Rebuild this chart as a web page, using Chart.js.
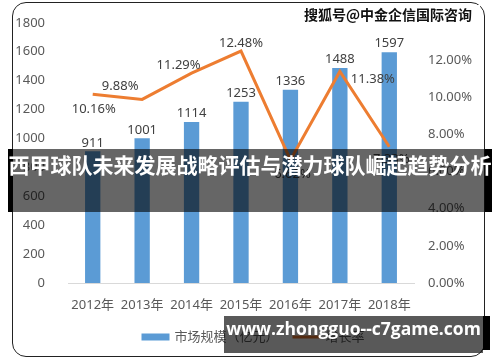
<!DOCTYPE html>
<html><head><meta charset="utf-8">
<script src="https://cdn.jsdelivr.net/npm/chart.js@4.4.0/dist/chart.umd.min.js"></script>
<style>
html,body{margin:0;padding:0;background:#fff;}
#wrap{position:relative;width:500px;height:362px;overflow:hidden;}
canvas{position:absolute;left:0;top:0;}
#panel{position:absolute;left:12px;top:2px;width:471px;height:353px;border:1.5px solid #222;border-radius:14px;pointer-events:none;}
#wm{position:absolute;left:304px;top:5px;width:176px;height:22px;background:#fff;font:bold 14px "Noto Sans CJK SC",sans-serif;color:#111;line-height:19px;white-space:nowrap;text-shadow:0 0 1px #fff;}
#banner{position:absolute;left:8px;top:149px;width:484px;height:63px;background:rgba(0,0,0,0.6);}
#banner .l{position:absolute;left:0;top:0;width:5px;height:63px;background:#000;}
#banner .r{position:absolute;right:0;top:0;width:7px;height:63px;background:#000;}
#banner .t{position:absolute;left:0;top:0;width:484px;line-height:63px;text-align:center;color:#fff;font:bold 21px "Noto Sans CJK SC",sans-serif;white-space:nowrap;}
#foot{position:absolute;left:224px;top:316px;width:266px;height:37px;}
#foot .g{position:absolute;left:0;top:0;width:259px;height:37px;background:rgba(0,0,0,0.65);}
#foot .r{position:absolute;left:259px;top:0;width:7px;height:34px;background:#000;}
#foot .t{position:absolute;left:1px;top:0;width:257px;line-height:37px;text-align:center;color:#fff;font:bold 17.5px "Open Sans",sans-serif;white-space:nowrap;}
</style></head>
<body><div id="wrap">
<canvas id="c" width="500" height="362"></canvas>
<div id="panel"></div>
<div id="wm">搜狐号@中金企信国际咨询</div>
<div id="banner"><div class="l"></div><div class="r"></div><div class="t">西甲球队未来发展战略评估与潜力球队崛起趋势分析</div></div>
<div id="foot"><div class="g"></div><div class="r"></div><div class="t">www.zhongguo--c7game.com</div></div>
</div>
<script>
const categories = ['2012年','2013年','2014年','2015年','2016年','2017年','2018年'];
const marketSize = [911, 1001, 1114, 1253, 1336, 1488, 1597];
const growthRate = [10.16, 9.88, 11.29, 12.48, 6.62, 11.38, 7.33];
const seriesNames = ['市场规模（亿元）', '增长率'];
const leftAxis = {min: 0, max: 1800, step: 200};
const rightAxis = {min: 0, max: 14, step: 2};

const FONT = "'Noto Sans','Noto Sans CJK SC',sans-serif";
const BLUE = '#5B9BD5', ORANGE = '#ED7D31', TXT = '#595959', LBL = '#404040';
const lineLabelOffsets = [[1,15],[-22,-13],[-13,-8],[0,-8],[2,14],[33,8],[2,13]];

const labelPlugin = {
  id: 'labels',
  afterDatasetsDraw(chart) {
    const ctx = chart.ctx;
    ctx.save();
    ctx.font = '13px ' + FONT;
    ctx.fillStyle = LBL;
    ctx.textAlign = 'center';
    chart.data.datasets.forEach((ds, di) => {
      const meta = chart.getDatasetMeta(di);
      meta.data.forEach((el, i) => {
        if (ds.type === 'bar') {
          ctx.textBaseline = 'bottom';
          ctx.fillText(String(ds.data[i]), el.x, el.y - 2);
        } else {
          ctx.textBaseline = 'middle';
          const o = lineLabelOffsets[i];
          ctx.fillText(ds.data[i].toFixed(2) + '%', el.x + o[0], el.y + o[1]);
        }
      });
    });
    ctx.restore();
  },
  afterDraw(chart) {
    const ctx = chart.ctx;
    ctx.save();
    ctx.font = '13px ' + FONT;
    const items = chart.data.datasets.map(ds => ({label: ds.label, type: ds.type, color: ds.type === 'bar' ? ds.backgroundColor : ds.borderColor}));
    const boxW = 28, gap = 5, spacing = 14;
    let total = 0;
    items.forEach((it, k) => { it.w = boxW + gap + ctx.measureText(it.label).width; total += it.w + (k ? spacing : 0); });
    let x = 250 - total / 2 + 3;
    const y = 337;
    items.forEach(it => {
      ctx.fillStyle = it.color;
      if (it.type === 'bar') ctx.fillRect(x, y - 3.5, boxW, 7);
      else ctx.fillRect(x, y - 1.5, boxW, 3);
      ctx.fillStyle = TXT;
      ctx.textAlign = 'left';
      ctx.textBaseline = 'middle';
      ctx.fillText(it.label, x + boxW + gap, y);
      x += it.w + spacing;
    });
    ctx.restore();
  }
};

new Chart(document.getElementById('c'), {
  data: {
    labels: categories,
    datasets: [
      {type: 'bar', label: seriesNames[0], data: marketSize, backgroundColor: BLUE, yAxisID: 'y', order: 1,
       categoryPercentage: 1, barPercentage: 0.31},
      {type: 'line', label: seriesNames[1], data: growthRate, borderColor: ORANGE, backgroundColor: ORANGE,
       borderWidth: 3, pointRadius: 0, tension: 0, yAxisID: 'y1', order: 0}
    ]
  },
  options: {
    responsive: false,
    animation: false,
    layout: {padding: {left: 14, right: 14, top: 7, bottom: 49}},
    plugins: {legend: {display: false}, tooltip: {enabled: false}},
    scales: {
      x: {
        grid: {display: false},
        border: {display: true, color: '#D9D9D9', width: 1},
        ticks: {color: TXT, font: {family: FONT, size: 13}, padding: 6, maxRotation: 0},
        afterFit(s) { s.height = 30; }
      },
      y: {
        position: 'left', min: leftAxis.min, max: leftAxis.max,
        grid: {display: false}, border: {display: false},
        ticks: {stepSize: leftAxis.step, color: TXT, font: {family: FONT, size: 13}, padding: 15,
          callback: v => String(v)},
        afterFit(s) { s.width = 54; }
      },
      y1: {
        position: 'right', min: rightAxis.min, max: rightAxis.max,
        grid: {display: false}, border: {display: false},
        ticks: {stepSize: rightAxis.step, color: TXT, font: {family: FONT, size: 13}, padding: 6,
          callback: v => v.toFixed(2) + '%'},
        afterFit(s) { s.width = 72; }
      }
    }
  },
  plugins: [labelPlugin]
});
</script>
</body></html>
